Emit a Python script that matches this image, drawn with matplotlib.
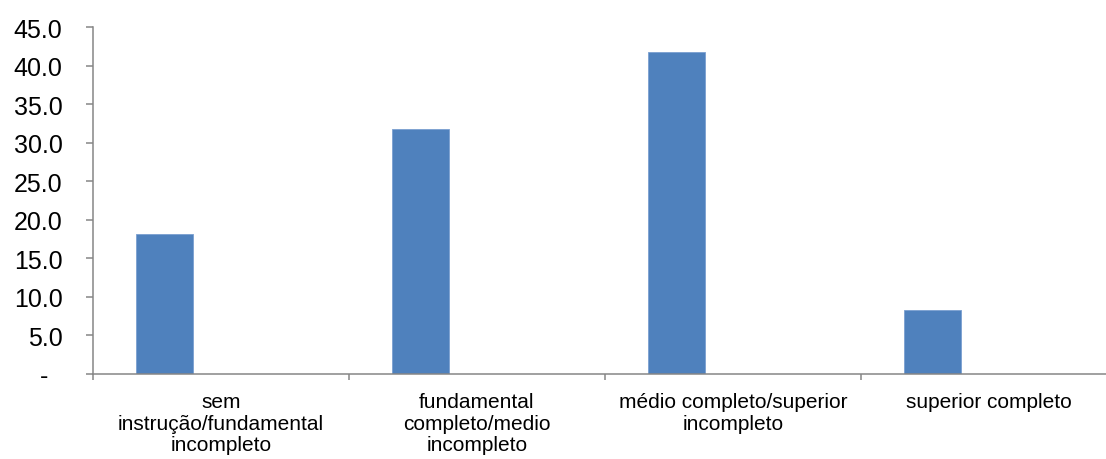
import numpy as np
import matplotlib
matplotlib.use("Agg")
import matplotlib.pyplot as plt

plt.rcParams['font.family'] = ['Liberation Sans', 'DejaVu Sans']

# data
categories = ["sem\ninstrução/fundamental\nincompleto",
              "fundamental\ncompleto/medio\nincompleto",
              "médio completo/superior\nincompleto",
              "superior completo"]
values = [18.1, 31.8, 41.8, 8.3]
yticks = [0, 5, 10, 15, 20, 25, 30, 35, 40, 45]
ytick_labels = ["-  "] + ["%.1f" % v for v in yticks[1:]]

axis_grey = "#868686"
bar_blue = "#4F81BD"

fig = plt.figure(figsize=(11.06, 4.6), dpi=100)
# axes runs a little past the right edge, like the cropped original
ax = fig.add_axes([93 / 1106, 85 / 460, 1024 / 1106, 347 / 460])

# three series slots per category (only the first has data), gap 150%
bw = 1 / 4.5
x = np.arange(len(categories))
ax.bar(x - bw, values, width=bw, color=bar_blue, edgecolor="#7a9fd0", linewidth=0.6)

ax.set_xlim(-0.5, len(categories) - 0.5)
ax.set_ylim(0, 45)

for side in ["top", "right"]:
    ax.spines[side].set_visible(False)
for side in ["left", "bottom"]:
    ax.spines[side].set_color(axis_grey)
    ax.spines[side].set_linewidth(1.1)

ax.set_yticks(yticks)
ax.set_yticklabels(ytick_labels)
ax.tick_params(axis="y", direction="out", length=5, width=1.1, color=axis_grey,
               labelsize=18, pad=17, labelcolor="black")

ax.set_xticks(x)
ax.set_xticklabels(categories, fontsize=15, linespacing=1.17)
ax.tick_params(axis="x", which="major", length=0, pad=13, labelcolor="black")
ax.set_xticks(np.arange(-0.5, len(categories)), minor=True)
ax.tick_params(axis="x", which="minor", direction="out", length=4.5, width=1.1,
               color=axis_grey)

fig.savefig("out.png", dpi=100)
